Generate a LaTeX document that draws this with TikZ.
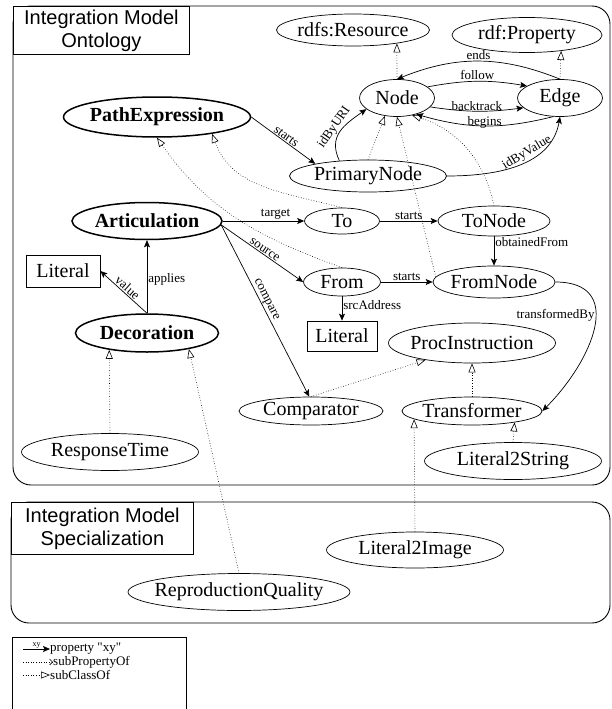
\documentclass[tikz,border=0pt]{standalone}
\usepackage{fontspec}
\setmainfont{Liberation Serif}
\newfontfamily\ttlsans{Liberation Sans}
\usetikzlibrary{arrows.meta, shapes.geometric}

\newcommand\clsfont{\fontsize{20}{22}\selectfont}
\newcommand\lblfont{\fontsize{13}{14}\selectfont}
\newcommand\legfont{\fontsize{13}{13}\selectfont}

\begin{document}
\begin{tikzpicture}[
        x=1pt, y=-1pt,
        cls/.style={ellipse, draw, line width=0.7pt, inner xsep=-6pt, inner ysep=0pt, font=\clsfont},
        keycls/.style={cls, line width=1.5pt, font=\clsfont\bfseries},
        literal/.style={rectangle, draw, line width=0.7pt, inner sep=0pt, font=\clsfont},
        prop/.style={line width=0.7pt, -{Stealth[length=7pt, width=6pt, inset=1.5pt]}},
        subprop/.style={dotted, line width=0.6pt, -{Straight Barb[length=3pt, width=6pt]}},
        subclass/.style={dotted, line width=0.6pt, -{Triangle[open, length=9pt, width=7pt]}},
        lbl/.style={font=\lblfont, inner sep=1pt},
        zone/.style={draw, line width=0.9pt, rounded corners=18pt},
        zonetitle/.style={draw, fill=white, line width=0.9pt, align=center, inner sep=0pt,
            anchor=north west, font=\ttlsans\fontsize{20}{23}\selectfont},
        legtext/.style={font=\legfont, inner sep=0pt, anchor=west},
    ]
    \useasboundingbox (0,0) rectangle (612,709);

        % Draw the two model regions
        \draw[zone] (13,6) rectangle (610,485);
        \node[zonetitle, minimum width=176pt, minimum height=48pt] (ontoTitle) at (13,6) {Integration Model\\Ontology};
        \draw[zone] (11,502) rectangle (610,623);
        \node[zonetitle, minimum width=182pt, minimum height=52pt] (specTitle) at (11,502) {Integration Model\\Specialization};

        % Draw the classes
        \node[cls, minimum width=153pt, minimum height=32pt] (Res) at (353,30) {rdfs:Resource};
        \node[cls, minimum width=150pt, minimum height=35pt] (Prop) at (527,35) {rdf:Property};
        \node[cls, minimum width=75pt, minimum height=37pt] (Node) at (397,98) {Node};
        \node[cls, minimum width=85pt, minimum height=37pt] (Edge) at (560,98) {Edge};
        \node[keycls, minimum width=187pt, minimum height=40pt] (PathExpr) at (157,117) {PathExpression};
        \node[cls, minimum width=157pt, minimum height=32pt] (Prim) at (368,176) {PrimaryNode};
        \node[keycls, minimum width=150pt, minimum height=37pt] (Artic) at (147,221) {Articulation};
        \node[cls, minimum width=75pt, minimum height=26pt] (To) at (342,221) {To};
        \node[cls, minimum width=112pt, minimum height=30pt] (ToNode) at (494,221) {ToNode};
        \node[cls, minimum width=77pt, minimum height=28pt] (From) at (342,282) {From};
        \node[cls, minimum width=122pt, minimum height=32pt] (FromNode) at (494,282) {FromNode};
        \node[literal, minimum width=74pt, minimum height=32pt] (LitVal) at (63,271) {Literal};
        \node[literal, minimum width=70pt, minimum height=30pt] (LitSrc) at (342,336) {Literal};
        \node[keycls, minimum width=143pt, minimum height=38pt] (Deco) at (147,333) {Decoration};
        \node[cls, minimum width=167pt, minimum height=40pt] (Proc) at (472,343) {ProcInstruction};
        \node[cls, minimum width=144pt, minimum height=28pt] (Comp) at (311,411) {Comparator};
        \node[cls, minimum width=140pt, minimum height=28pt] (Trans) at (472,411) {Transformer};
        \node[cls, minimum width=177pt, minimum height=37pt] (LitStr) at (513,461) {Literal2String};
        \node[cls, minimum width=177pt, minimum height=37pt] (Resp) at (110,452) {ResponseTime};
        \node[cls, minimum width=177pt, minimum height=36pt] (LitImg) at (415,550) {Literal2Image};
        \node[cls, minimum width=222pt, minimum height=37pt] (Repro) at (239,592) {ReproductionQuality};

        % subClassOf links
        \foreach \src/\dst in {Node.north/Res.-17, Edge.north/Prop.-25, Prim.north/Node.236,
                FromNode.175/Node.south, Comp.north/Proc.200, Trans.north/Proc.south,
                LitStr.north/Trans.-15, LitImg.north/Trans.188, Resp.north/Deco.204, Repro.north/Deco.-21}
            \draw[subclass] (\src) -- (\dst);
        \draw[subclass] (ToNode.north) to[bend right=30] (Node.-49);
        \draw[subclass] (To.north) to[out=165, in=-70] (PathExpr.-17);
        \draw[subclass] (From.north) to[out=160, in=-55] (PathExpr.south);

        % Properties between Node and Edge
        \draw[prop] (Edge.north) to[bend right=22] node[lbl, above] {ends} (Node.north);
        \draw[prop] (Node.20) to[bend left=10] node[lbl, above] {follow} (Edge.160);
        \draw[prop] (Node.-15) to[bend right=8] node[lbl, above, inner sep=0pt] {backtrack} (Edge.195);
        \draw[prop] (Edge.250) to[bend left=15] node[lbl, above, inner sep=0pt, yshift=-3pt] {begins} (Node.-40);

        % Properties of the path
        \draw[prop] (PathExpr.east) -- node[lbl, above, sloped] {starts} (Prim.167);
        \draw[prop] (Prim.152) to[out=115, in=215, looseness=1.2] node[lbl, above, sloped] {idByURI} (Node.200);
        \draw[prop] (Prim.east) to[out=0, in=-100] node[lbl, above, sloped, pos=0.6] {idByValue} (Edge.south);
        \draw[prop] (Artic.east) -- node[lbl, above, pos=0.65] {target} (To.west);
        \draw[prop] (Artic.-3) -- node[lbl, above, sloped] {source} (From.west);
        \draw[prop] (Artic.-3) -- node[lbl, above, sloped, pos=0.45] {compare} (Comp.97);
        \draw[prop] (To.east) -- node[lbl, above] {starts} (ToNode.west);
        \draw[prop] (From.east) -- node[lbl, above] {starts} (FromNode.west);
        \draw[prop] (ToNode.south) -- node[lbl, right, pos=0.2] {obtainedFrom} (FromNode.north);
        \draw[prop] (From.south) -- node[lbl, right, pos=0.37] {srcAddress} (LitSrc.north);
        \draw[prop] (FromNode.east) to[out=0, in=45, looseness=1.4] node[lbl, left, pos=0.42] {transformedBy} (Trans.east);
        \draw[prop] (Deco.north) -- node[lbl, right, pos=0.47] {applies} (Artic.south);
        \draw[prop] (Deco.north) -- node[lbl, above, sloped] {value} (LitVal.east);

        % Legend
        \draw[line width=0.9pt] (12,712) |- (186,637) -- (186,712);
        \node[legtext] (lgProp) at (50,649) {property \textquotedbl xy\textquotedbl};
        \node[legtext] (lgSubProp) at (53,662) {subPropertyOf};
        \node[legtext] (lgSubCls) at (50,675) {subClassOf};
        \coordinate (lgPropEnd) at (23,649);
        \coordinate (lgSubPropEnd) at (23,662);
        \coordinate (lgSubClsEnd) at (23,675);
        \draw[prop] (lgPropEnd) -- node[above, inner sep=0.5pt, font=\fontsize{8}{8}\selectfont] {xy} (lgProp.west);
        \draw[subprop] (lgSubPropEnd) -- (lgSubProp.west);
        \draw[subclass] (lgSubClsEnd) -- (lgSubCls.west);
\end{tikzpicture}
\end{document}
